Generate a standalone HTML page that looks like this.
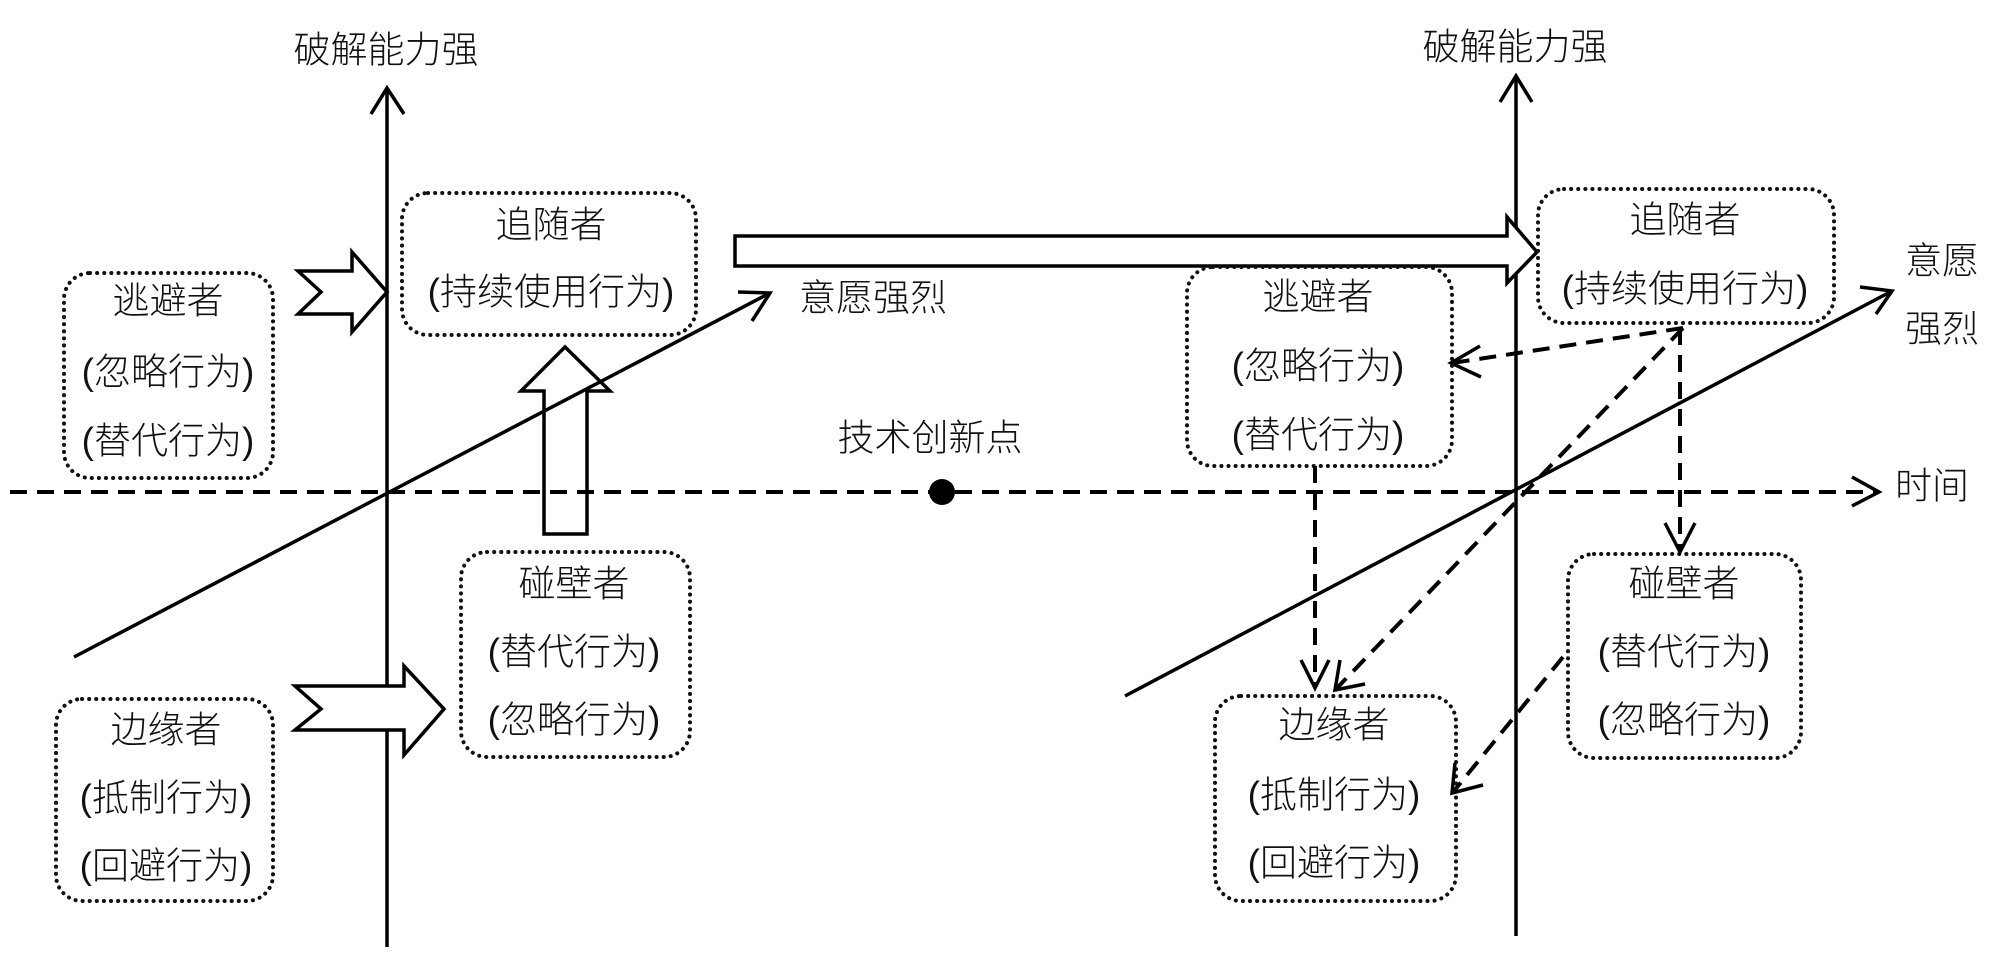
<!DOCTYPE html>
<html><head><meta charset="utf-8"><style>
html,body{margin:0;padding:0;background:#fff;}
svg{display:block;}
text{font-family:"Liberation Sans","Noto Sans CJK SC",sans-serif;font-size:37px;font-weight:300;fill:#111;text-anchor:middle;dominant-baseline:central;}
.ax{stroke:#000;stroke-width:3.5;fill:none;}
.da{stroke:#000;stroke-width:4;fill:none;stroke-dasharray:17 10;}
.bx{stroke:#111;stroke-width:4;fill:none;stroke-dasharray:0.1 7;stroke-linecap:round;}
.blk{stroke:#000;stroke-width:3.5;fill:#fff;stroke-linejoin:miter;}
</style></head><body>
<svg width="2000" height="974" viewBox="0 0 2000 974" xmlns="http://www.w3.org/2000/svg">
<!-- block arrows left (drawn under lines) -->
<polygon class="blk" points="544,534 544,391 521,391 565,347 610,391 587,391 587,534"/>

<!-- horizontal dashed time axis -->
<line class="da" x1="10" y1="492" x2="1876" y2="492"/>
<polyline class="ax" points="1852,477 1879,492 1852,506"/>
<text x="1932" y="486">时间</text>
<circle cx="942" cy="492" r="13" fill="#000"/>
<text x="930" y="438">技术创新点</text>

<!-- left axis -->
<line class="ax" x1="387" y1="88" x2="387" y2="947"/>
<polyline class="ax" points="371,114 387,88 404,114"/>
<text x="386" y="50">破解能力强</text>
<!-- left diagonal -->
<line class="ax" x1="74" y1="657" x2="770" y2="293"/>
<polyline class="ax" points="738,292 770,293 752,321"/>
<text x="873" y="298">意愿强烈</text>

<!-- right axis -->
<line class="ax" x1="1516" y1="76" x2="1516" y2="936"/>
<polyline class="ax" points="1500,102 1516,76 1532,102"/>
<text x="1515" y="47">破解能力强</text>
<line class="ax" x1="1125" y1="696" x2="1892" y2="291"/>
<polyline class="ax" points="1860,287 1892,291 1876,314"/>
<text x="1942" y="261">意愿</text>
<text x="1942" y="329">强烈</text>

<!-- left boxes -->
<rect class="bx" x="402" y="193" width="294" height="142" rx="26"/>
<text x="551" y="225">追随者</text>
<text x="551" y="292">(持续使用行为)</text>

<rect class="bx" x="64" y="273" width="209" height="205" rx="26"/>
<text x="168" y="301">逃避者</text>
<text x="168" y="372">(忽略行为)</text>
<text x="168" y="441">(替代行为)</text>

<rect class="bx" x="461" y="552" width="229" height="205" rx="26"/>
<text x="574" y="584">碰壁者</text>
<text x="574" y="652">(替代行为)</text>
<text x="574" y="720">(忽略行为)</text>

<rect class="bx" x="56" y="699" width="217" height="202" rx="26"/>
<text x="166" y="730">边缘者</text>
<text x="166" y="798">(抵制行为)</text>
<text x="166" y="866">(回避行为)</text>

<polygon class="blk" points="298,271 352,271 352,252 387,292 352,332 352,314 298,314 321,292"/>
<polygon class="blk" points="295,686 404,686 404,666 444,709 404,755 404,730 295,730 321,709"/>
<polygon class="blk" points="735,236 1507,236 1507,217 1537,252 1507,283 1507,266 735,266"/>

<!-- right boxes -->
<rect class="bx" x="1538" y="189" width="296" height="134" rx="26"/>
<text x="1685" y="220">追随者</text>
<text x="1685" y="289">(持续使用行为)</text>

<rect class="bx" x="1187" y="267" width="265" height="199" rx="26"/>
<text x="1318" y="297">逃避者</text>
<text x="1318" y="366">(忽略行为)</text>
<text x="1318" y="435">(替代行为)</text>

<rect class="bx" x="1568" y="554" width="233" height="204" rx="26"/>
<text x="1684" y="584">碰壁者</text>
<text x="1684" y="652">(替代行为)</text>
<text x="1684" y="720">(忽略行为)</text>

<rect class="bx" x="1215" y="696" width="241" height="205" rx="26"/>
<text x="1334" y="725">边缘者</text>
<text x="1334" y="795">(抵制行为)</text>
<text x="1334" y="863">(回避行为)</text>

<!-- dashed arrows right -->
<line class="da" x1="1683" y1="328" x2="1452" y2="363"/>
<polyline class="ax" points="1480,346 1451,363 1481,377"/>
<line class="da" x1="1680" y1="328" x2="1680" y2="550"/>
<polyline class="ax" points="1665,523 1680,552 1695,523"/>
<line class="da" x1="1683" y1="328" x2="1337" y2="688"/>
<polyline class="ax" points="1340,660 1335,690 1365,684"/>
<line class="da" x1="1315" y1="466" x2="1315" y2="686"/>
<polyline class="ax" points="1301,660 1315,688 1329,660"/>
<line class="da" x1="1563" y1="657" x2="1454" y2="791"/>
<polyline class="ax" points="1455,763 1452,793 1483,785"/>
</svg>
</body></html>
